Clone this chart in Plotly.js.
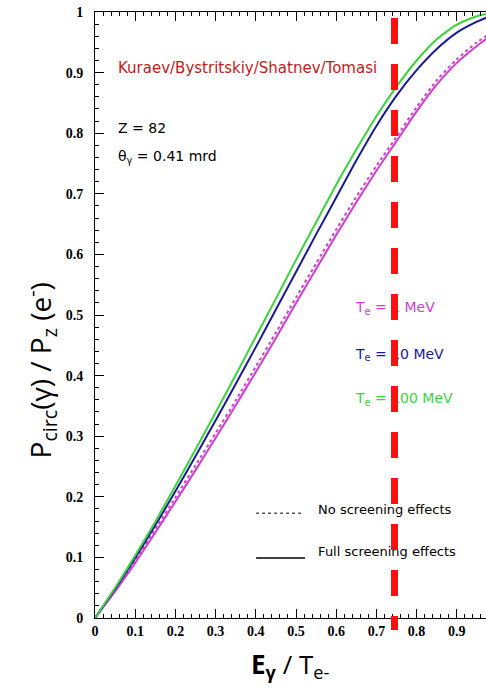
<!DOCTYPE html>
<html>
<head>
<meta charset="utf-8">
<script src="https://cdn.plot.ly/plotly-3.0.1.min.js"></script>
<style>html,body{margin:0;padding:0;background:#fff;}#chart{width:486px;height:693px;}</style>
</head>
<body>
<div id="chart"></div>
<script>
// Photon energy fraction E_gamma / T_e-
const xGrid = [0, 0.05, 0.1, 0.15, 0.2, 0.25, 0.3, 0.35, 0.4, 0.45, 0.5, 0.55, 0.6, 0.65, 0.7, 0.75, 0.8, 0.85, 0.9, 0.95, 0.975];
// Te = 100 MeV, full screening
const green100 = [0, 0.050, 0.103, 0.159, 0.218, 0.278, 0.339, 0.401, 0.464, 0.527, 0.591, 0.653, 0.715, 0.773, 0.828, 0.877, 0.920, 0.955, 0.979, 0.993, 0.997];
// Te = 10 MeV, full screening
const blue10 = [0, 0.048, 0.099, 0.153, 0.209, 0.267, 0.326, 0.386, 0.447, 0.509, 0.571, 0.633, 0.694, 0.755, 0.812, 0.862, 0.904, 0.939, 0.966, 0.984, 0.991];
// Te = 1 MeV, full screening
const magenta1Full = [0, 0.044, 0.091, 0.141, 0.192, 0.244, 0.297, 0.351, 0.406, 0.462, 0.520, 0.576, 0.632, 0.686, 0.738, 0.787, 0.836, 0.880, 0.916, 0.944, 0.956];
// Te = 1 MeV, no screening
const magenta1NoScr = [0, 0.046, 0.095, 0.147, 0.199, 0.252, 0.305, 0.359, 0.415, 0.471, 0.529, 0.585, 0.641, 0.695, 0.746, 0.794, 0.843, 0.887, 0.922, 0.950, 0.961];
// Vertical marker position
const cutLine = 0.745;

const GREEN = '#3cd43c', BLUE = '#1a1a96', MAG = '#d23cd2', RED = '#ff0f0f';
const txtFont = 'DejaVu Sans, sans-serif';
const smooth = {shape: 'spline', smoothing: 0.6};

const traces = [
  {x: xGrid, y: magenta1NoScr, mode: 'lines', line: Object.assign({color: MAG, width: 2, dash: 'dot'}, smooth), hoverinfo: 'skip'},
  {x: xGrid, y: magenta1Full, mode: 'lines', line: Object.assign({color: MAG, width: 2}, smooth), hoverinfo: 'skip'},
  {x: xGrid, y: blue10, mode: 'lines', line: Object.assign({color: BLUE, width: 2}, smooth), hoverinfo: 'skip'},
  {x: xGrid, y: green100, mode: 'lines', line: Object.assign({color: GREEN, width: 2}, smooth), hoverinfo: 'skip'},
  {x: [0.649], y: [0.51], mode: 'text', text: ['T<sub>e</sub> = 1 MeV'], textposition: 'middle right', textfont: {family: txtFont, size: 14, color: MAG}, cliponaxis: false, hoverinfo: 'skip'},
  {x: [0.649], y: [0.434], mode: 'text', text: ['T<sub>e</sub> = 10 MeV'], textposition: 'middle right', textfont: {family: txtFont, size: 14, color: BLUE}, cliponaxis: false, hoverinfo: 'skip'},
  {x: [0.649], y: [0.36], mode: 'text', text: ['T<sub>e</sub> = 100 MeV'], textposition: 'middle right', textfont: {family: txtFont, size: 14, color: GREEN}, cliponaxis: false, hoverinfo: 'skip'},
  {x: [0.555], y: [0.177], mode: 'text', text: ['No screening effects'], textposition: 'middle right', textfont: {family: txtFont, size: 13, color: '#000'}, cliponaxis: false, hoverinfo: 'skip'},
  {x: [0.555], y: [0.107], mode: 'text', text: ['Full screening effects'], textposition: 'middle right', textfont: {family: txtFont, size: 13, color: '#000'}, cliponaxis: false, hoverinfo: 'skip'}
];

const tickFont = {family: 'Liberation Serif, serif', size: 14, color: '#000', weight: 'bold'};

const layout = {
  width: 486, height: 693,
  margin: {l: 95, r: 0, t: 12, b: 75},
  paper_bgcolor: '#fff', plot_bgcolor: '#fff',
  showlegend: false,
  xaxis: {
    range: [0, 0.9726], dtick: 0.1, tick0: 0, ticks: 'inside', ticklen: 9, tickwidth: 1, tickcolor: '#000',
    minor: {dtick: 0.02, ticks: 'inside', ticklen: 4, tickcolor: '#000'},
    showline: true, linecolor: '#000', linewidth: 1, mirror: 'ticks',
    showgrid: false, zeroline: false, tickfont: tickFont, fixedrange: true
  },
  yaxis: {
    range: [0, 1], dtick: 0.1, tick0: 0, ticks: 'inside', ticklen: 9, tickwidth: 1, tickcolor: '#000',
    minor: {dtick: 0.02, ticks: 'inside', ticklen: 4, tickcolor: '#000'},
    showline: true, linecolor: '#000', linewidth: 1, mirror: false,
    showgrid: false, zeroline: false, tickfont: tickFont, ticklabelstandoff: 8, fixedrange: true
  },
  shapes: [
    {type: 'line', xref: 'x', yref: 'paper', x0: cutLine, x1: cutLine, y0: 0.99, y1: -0.02, layer: 'above',
     line: {color: RED, width: 7, dash: '26px,20px'}},
    {type: 'line', xref: 'paper', yref: 'paper', x0: 0.412, x1: 0.527, y0: 0.173, y1: 0.173, layer: 'above',
     line: {color: '#000', width: 1, dash: 'dot'}},
    {type: 'line', xref: 'paper', yref: 'paper', x0: 0.412, x1: 0.537, y0: 0.099, y1: 0.099, layer: 'above',
     line: {color: '#000', width: 1.5}}
  ],
  annotations: [
    {xref: 'paper', yref: 'paper', x: 0.054, y: 0.908, xanchor: 'left', yanchor: 'middle', showarrow: false,
     text: 'Kuraev/Bystritskiy/Shatnev/Tomasi', font: {family: txtFont, size: 15, color: '#c41a1a'}},
    {xref: 'paper', yref: 'paper', x: 0.054, y: 0.809, xanchor: 'left', yanchor: 'middle', showarrow: false,
     text: 'Z = 82', font: {family: txtFont, size: 14, color: '#000'}},
    {xref: 'paper', yref: 'paper', x: 0.054, y: 0.761, xanchor: 'left', yanchor: 'middle', showarrow: false,
     text: 'θ<sub>γ</sub> = 0.41 mrd', font: {family: txtFont, size: 14, color: '#000'}},
    {xref: 'paper', yref: 'paper', x: -0.14, y: 0.409, xanchor: 'center', yanchor: 'middle', showarrow: false, textangle: -90,
     text: 'P<sub>circ</sub>(γ) / P<sub>z</sub> (e<sup>-</sup>)', font: {family: 'Open Sans, sans-serif', size: 28, color: '#000'}},
    {xref: 'paper', yref: 'paper', x: 0.4987, y: -0.078, xanchor: 'center', yanchor: 'middle', showarrow: false,
     text: '<b>E<sub>γ</sub></b> / T<sub>e-</sub>', font: {family: 'Open Sans, sans-serif', size: 26, color: '#000'}}
  ]
};

Plotly.newPlot('chart', traces, layout, {staticPlot: true, displayModeBar: false});
</script>
</body>
</html>
